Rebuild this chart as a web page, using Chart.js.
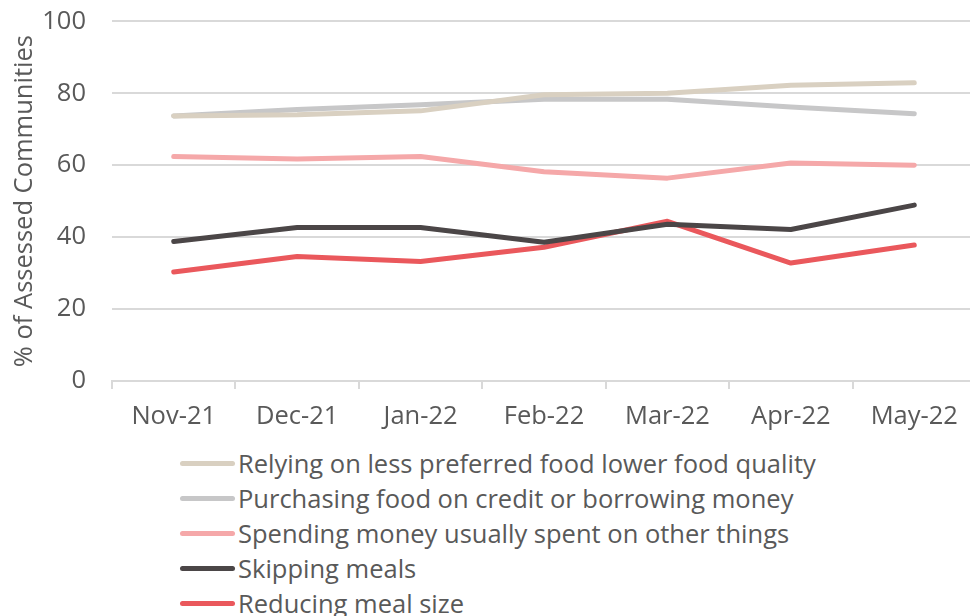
<!DOCTYPE html>
<html>
<head>
<meta charset="utf-8">
<script src="https://cdn.jsdelivr.net/npm/chart.js@4"></script>
<style>
  html, body { margin: 0; padding: 0; background: #fff; overflow: hidden; }
  #wrap { width: 970px; height: 616px; position: relative; overflow: hidden; }
  #chartBox { width: 976px; height: 461px; position: absolute; left: 0; top: -20px; }
  #legend { position: absolute; left: 180px; top: 446px; font-family: "Open Sans", sans-serif; font-size: 25.5px; color: #595959; }
  .item { height: 35px; line-height: 35px; display: flex; align-items: center; white-space: nowrap; }
  .swatch { width: 55px; height: 5px; border-radius: 3px; margin-right: 3px; }
</style>
</head>
<body>
<div id="wrap">
  <div id="chartBox"><canvas id="foodChart"></canvas></div>
  <div id="legend"></div>
</div>
<script>
// Months on the x axis
const months = ['Nov-21', 'Dec-21', 'Jan-22', 'Feb-22', 'Mar-22', 'Apr-22', 'May-22'];

// Share of assessed communities using each coping strategy (%)
const relyingLessPreferred = [73.7, 74.0, 75.1, 79.6, 80.0, 82.2, 82.9];
const purchasingOnCredit = [73.7, 75.5, 76.8, 78.3, 78.3, 76.2, 74.3];
const spendingOtherThings = [62.4, 61.7, 62.4, 58.2, 56.4, 60.6, 60.0];
const skippingMeals = [38.8, 42.7, 42.7, 38.6, 43.6, 42.1, 48.9];
const reducingMealSize = [30.3, 34.6, 33.2, 37.2, 44.4, 32.8, 37.8];

const yTicks = [0, 20, 40, 60, 80, 100];

const fontFamily = '"Open Sans", sans-serif';
const fontSize = 25.5;
const textColor = '#595959';
const gridColor = '#d9d9d9';

function series(label, data, color) {
    return {
        label: label,
        data: data,
        borderColor: color,
        backgroundColor: color,
        borderWidth: 5,
        borderCapStyle: 'round',
        borderJoinStyle: 'round',
        pointRadius: 0,
        tension: 0,
        fill: false
    };
}

const foodData = {
    labels: months,
    datasets: [
        series('Relying on less preferred food lower food quality', relyingLessPreferred, '#d9d0c1'),
        series('Purchasing food on credit or borrowing money', purchasingOnCredit, '#c7c7c8'),
        series('Spending money usually spent on other things', spendingOtherThings, '#f5a8a9'),
        series('Skipping meals', skippingMeals, '#4b4647'),
        series('Reducing meal size', reducingMealSize, '#ea585c')
    ]
};

const ctx = document.getElementById('foodChart').getContext('2d');
const chart = new Chart(ctx, {
    type: 'line',
    data: foodData,
    options: {
        responsive: true,
        maintainAspectRatio: false,
        animation: false,
        layout: { padding: { top: 8, left: 0, right: 0, bottom: 0 } },
        plugins: {
            legend: { display: false },
            tooltip: { enabled: false }
        },
        scales: {
            x: {
                offset: true,
                afterFit: axis => { axis.height = 60; },
                grid: {
                    offset: true,
                    drawOnChartArea: false,
                    drawTicks: true,
                    tickLength: 8,
                    color: gridColor,
                    lineWidth: 2
                },
                border: { color: gridColor, width: 2 },
                ticks: {
                    color: textColor,
                    padding: 12,
                    maxRotation: 0,
                    font: { family: fontFamily, size: fontSize }
                }
            },
            y: {
                min: 0,
                max: 100,
                afterBuildTicks: axis => { axis.ticks = yTicks.map(v => ({ value: v })); },
                afterFit: axis => { axis.width = 112; },
                grid: { color: gridColor, lineWidth: 2, drawTicks: false },
                border: { display: false },
                ticks: {
                    color: textColor,
                    padding: 26,
                    font: { family: fontFamily, size: fontSize }
                },
                title: {
                    display: true,
                    text: '% of Assessed Communities',
                    color: textColor,
                    padding: { top: 9, bottom: 0 },
                    font: { family: fontFamily, size: fontSize }
                }
            }
        }
    }
});

// Single-column legend built from the chart's datasets
const legendEl = document.getElementById('legend');
chart.data.datasets.forEach(ds => {
    const row = document.createElement('div');
    row.className = 'item';
    const sw = document.createElement('span');
    sw.className = 'swatch';
    sw.style.background = ds.borderColor;
    const txt = document.createElement('span');
    txt.textContent = ds.label;
    row.appendChild(sw);
    row.appendChild(txt);
    legendEl.appendChild(row);
});
</script>
</body>
</html>
